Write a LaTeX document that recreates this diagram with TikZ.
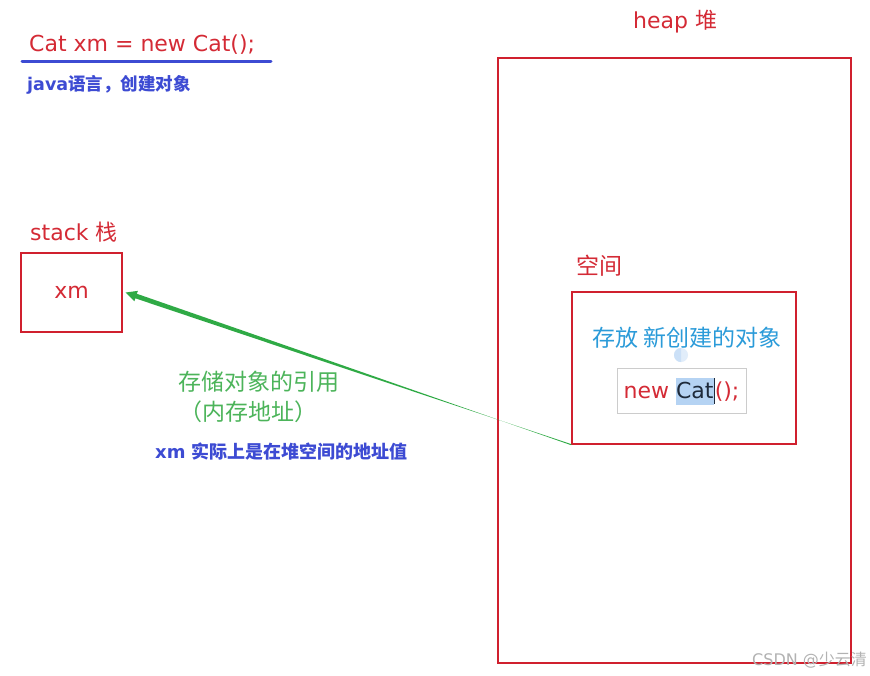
\documentclass[tikz,border=0pt]{standalone}
\usepackage{fontspec}
\setmainfont{DejaVu Sans}
\newfontfamily\cjk{Noto Sans CJK SC}
\usetikzlibrary{calc}
\definecolor{cRed}{HTML}{D42A35}
\definecolor{bRed}{HTML}{D0202E}
\definecolor{cBlue}{HTML}{3D4BD3}
\definecolor{cGreen}{HTML}{4CB45A}
\definecolor{aGreen}{HTML}{2FAA45}
\definecolor{cCyan}{HTML}{2B9BD9}
\definecolor{hl}{HTML}{B5D3F3}
\definecolor{dark}{HTML}{1E2A3A}
\tikzset{
  redbox/.style={draw=bRed, line width=1.4pt, inner sep=0pt},
  redtxt/.style={text=cRed, font=\fontsize{22}{26}\selectfont, inner sep=0pt},
  cjktxt/.style={font=\cjk\fontsize{23}{27}\selectfont, inner sep=0pt},
  bluebold/.style={text=cBlue, font=\bfseries, inner sep=0pt},
}
\begin{document}
\begin{tikzpicture}[x=1pt,y=-1pt]
\useasboundingbox[fill=white] (0,0) rectangle (870,675);

% code line
\node[redtxt, anchor=west] (code) at (29,45) {Cat xm = new Cat();};
\draw[cBlue, line width=3pt, line cap=round] (22,61) -- (271,61);
\node[bluebold, anchor=west, font=\bfseries\fontsize{17.5}{21}\selectfont] (java) at (27,85) {java{\cjk\bfseries 语言，创建对象}};

% heap
\node[redtxt, anchor=west] (heaplbl) at (633,22) {heap {\cjk 堆}};
\node[redbox, minimum width=353pt, minimum height=605pt] (heap) at (674.5,360.5) {};

% stack
\node[redtxt, anchor=west] (stacklbl) at (30,232) {stack {\cjk 栈}};
\node[redbox, minimum width=101pt, minimum height=79pt] (stk) at (71.5,292.5) {};
\node[redtxt] (xm) at (stk.center) {xm};

% space
\node[redtxt, cjktxt, anchor=west] (kj) at (576,266) {空间};
\node[redbox, minimum width=224pt, minimum height=152pt] (inner) at (684,368) {};
\node[cjktxt, text=cCyan] (cf) at (687,338) {存放 新创建的对象};
\fill[hl!40] (681,355) circle (7pt);
\fill[hl!70] (681,348) arc (90:270:7pt) -- cycle;
\node[draw=black!20, line width=0.6pt, minimum width=129pt, minimum height=45pt, inner sep=0pt] (tb) at (681.5,390.5) {};
\node[redtxt, anchor=base] (nc) at ([yshift=-8pt]tb.center) {new {\setlength{\fboxsep}{0pt}\colorbox{hl}{\rule[-6pt]{0pt}{27pt}\textcolor{dark}{Cat}}}{\color{dark}\rule[-5pt]{1.2pt}{26pt}}();};

% arrow
\coordinate (tip) at ([xshift=3pt]stk.east);
\coordinate (tail) at (inner.south west);
\coordinate (base) at ($(tip)!11pt!(tail)$);
\coordinate (mid) at ($(tip)!0.45!(tail)$);
\fill[aGreen]
  ($(tail)!0.5pt!90:(tip)$) --
  ($(mid)!1.3pt!-90:(tip)$) --
  ($(base)!2.4pt!-90:(tip)$) --
  ($(base)!5.5pt!-90:(tip)$) --
  (tip) --
  ($(base)!5.5pt!90:(tip)$) --
  ($(base)!2.4pt!90:(tip)$) --
  ($(mid)!1.3pt!90:(tip)$) --
  ($(tail)!0.5pt!-90:(tip)$) -- cycle;

% labels
\node[cjktxt, text=cGreen, anchor=west] (ref1) at (178,382) {存储对象的引用};
\node[cjktxt, text=cGreen, anchor=west] (ref2) at (179,412) {（内存地址）};
\node[bluebold, anchor=west, font=\bfseries\fontsize{18}{22}\selectfont] (addr) at (155,452) {xm {\cjk\bfseries 实际上是在堆空间的地址值}};

% watermark
\node[anchor=west, text=black!30, font=\fontsize{16}{19}\selectfont, inner sep=0pt] (wm) at (752,660) {CSDN @{\cjk 少云清}};
\end{tikzpicture}
\end{document}
